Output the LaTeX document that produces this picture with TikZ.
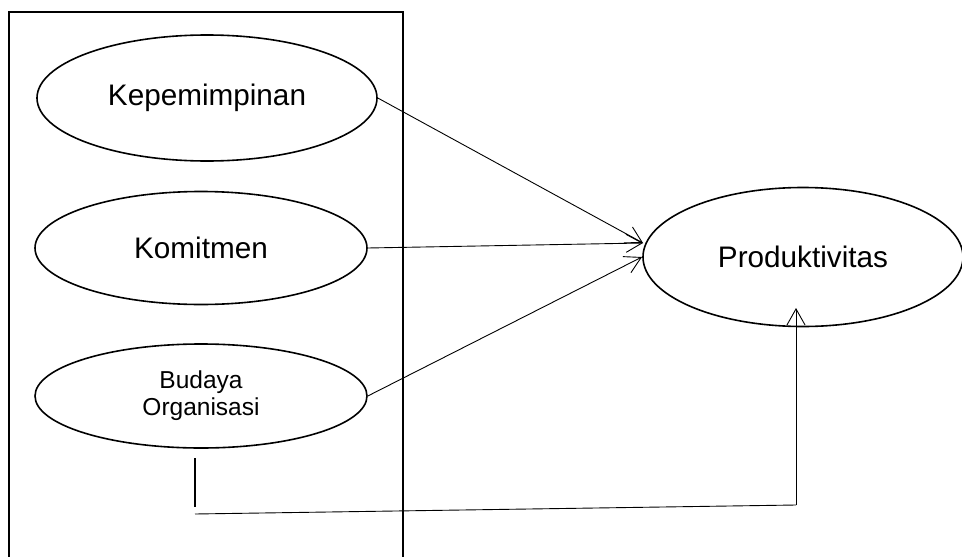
\documentclass[tikz,border=0pt]{standalone}
\usepackage{fontspec}
\setmainfont{Liberation Sans}
\usetikzlibrary{shapes.geometric,arrows.meta}
\tikzset{
  oval/.style={ellipse, draw, line width=1.6pt, inner sep=0pt, align=center},
  bigtext/.style={font=\fontsize{29.7}{34}\selectfont},
  smalltext/.style={font=\fontsize{24.5}{27}\selectfont},
  conn/.style={line width=0.9pt},
  arr/.style={conn, -{Straight Barb[length=16pt,width=18pt,line width=0.9pt]}},
  frame/.style={line width=2pt}
}
\begin{document}
\begin{tikzpicture}[x=1pt,y=-1pt]
\useasboundingbox (0,0) rectangle (962,557);
\clip (0,0) rectangle (962,557);
\draw[frame] (9,580) -- (9,12) -- (403,12) -- (403,580);
\node[oval, bigtext, minimum width=340pt, minimum height=126pt] (kep) at (207,98) {Kepemimpinan};
\node[oval, bigtext, minimum width=332pt, minimum height=113pt] (kom) at (201,248) {Komitmen};
\node[oval, smalltext, minimum width=332pt, minimum height=104pt] (bud) at (201,396) {Budaya\\Organisasi};
\node[oval, bigtext, minimum width=320pt, minimum height=139pt] (prod) at (803,257) {Produktivitas};
\coordinate (t1) at (643,243);
\coordinate (t2) at (642,257);
\coordinate (v1) at (195,458);
\coordinate (v2) at (195,507);
\coordinate (h1) at (195,514);
\coordinate (h2) at (796,505);
\coordinate (up) at (796,308);
\draw[arr] (kep.east) -- (t1);
\draw[arr] (kom.east) -- (t1);
\draw[arr] (bud.east) -- (t2);
\draw[line width=1.8pt] (v1) -- (v2);
\draw[conn] (h1) -- (h2);
\draw[arr] (h2) -- (up);
\end{tikzpicture}
\end{document}
